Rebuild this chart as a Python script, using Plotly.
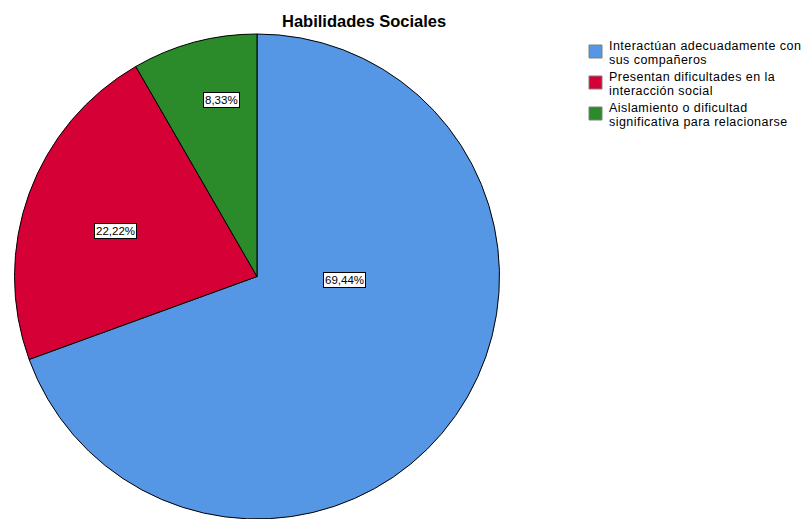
import plotly.graph_objects as go

title = "Habilidades Sociales"
categories = [
    "Interactúan adecuadamente con<br>sus compañeros",
    "Presentan dificultades en la<br>interacción social",
    "Aislamiento o dificultad<br>significativa para relacionarse",
]
counts = [25, 8, 3]
colors = ["#5596E5", "#D50036", "#2B8B2B"]

W, H = 805, 519
FONT = "Arial, Liberation Sans, sans-serif"

total = sum(counts)
pct_text = [f"{c / total * 100:.2f}".replace(".", ",") + "%" for c in counts]

fig = go.Figure(go.Pie(
    labels=[c.replace("<br>", " ") for c in categories],
    values=counts,
    sort=False,
    direction="clockwise",
    rotation=0,
    marker=dict(colors=colors, line=dict(color="#000000", width=1)),
    textinfo="none",
    hoverinfo="label+percent",
    showlegend=False,
    domain=dict(x=[14 / W, 500 / W], y=[0, (H - 34) / H]),
))

# percentage label boxes (pixel positions of the SPSS-style labels)
label_px = [(344.5, 280), (115, 231.5), (221, 100)]
ann = []
for (px, py), t in zip(label_px, pct_text):
    ann.append(dict(
        x=px / W, y=1 - py / H, xref="paper", yref="paper",
        text=t, showarrow=False, xanchor="center", yanchor="middle",
        font=dict(family=FONT, size=11.5, color="#000000"),
        bgcolor="#FFFFFF", bordercolor="#000000", borderwidth=1, borderpad=1,
    ))

# title
ann.append(dict(
    x=364 / W, y=1 - 21 / H, xref="paper", yref="paper",
    text="<b>" + title + "</b>", showarrow=False,
    xanchor="center", yanchor="middle",
    font=dict(family=FONT, size=16.5, color="#000000"),
))

# custom legend (base size sets line step, spans set glyph size)
shapes = []
entry_top = 41
entry_step = 31
for i, (cat, col) in enumerate(zip(categories, colors)):
    top = entry_top + i * entry_step
    lines = cat.split("<br>")
    txt = "<br>".join(
        f'<span style="font-size:12.5px;letter-spacing:0.45px">{ln}</span>' for ln in lines
    )
    ann.append(dict(
        x=607 / W, y=1 - (top + 11.5) / H,
        xref="paper", yref="paper", text=txt, showarrow=False,
        xanchor="left", yanchor="middle", align="left",
        font=dict(family=FONT, size=10.8, color="#000000"),
    ))
    sy = top + 4
    shapes.append(dict(
        type="rect", xref="paper", yref="paper",
        x0=589 / W, x1=602 / W, y0=1 - (sy + 13) / H, y1=1 - sy / H,
        fillcolor=col, line=dict(color="#7F7F7F", width=1),
    ))

fig.update_layout(
    width=W, height=H,
    margin=dict(l=0, r=0, t=0, b=0),
    paper_bgcolor="#FFFFFF", plot_bgcolor="#FFFFFF",
    annotations=ann, shapes=shapes,
    font=dict(family=FONT),
)

fig.write_html("out.html")
